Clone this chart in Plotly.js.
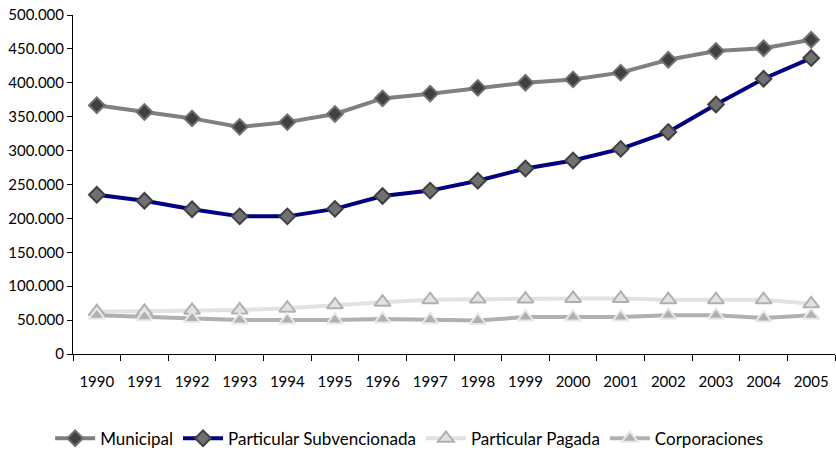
<!DOCTYPE html>
<html>
<head>
<meta charset="utf-8">
<script src="https://cdn.plot.ly/plotly-3.0.1.min.js"></script>
<style>
  body { margin: 0; background: #fff; }
  #chart { width: 836px; height: 450px; }
</style>
</head>
<body>
<div id="chart"></div>
<script>
// years on the x axis
var years = ["1990", "1991", "1992", "1993", "1994", "1995", "1996", "1997",
             "1998", "1999", "2000", "2001", "2002", "2003", "2004", "2005"];

// enrolment per type of school
var municipal = [367000, 357000, 347500, 335000, 342000, 354000, 377000, 384000,
                 392500, 400000, 405000, 415000, 434000, 447000, 451000, 463500];
var subvencionada = [235000, 226000, 213500, 203000, 203000, 214000, 233000, 241000,
                     255500, 273500, 285500, 302500, 327500, 368000, 406000, 436500];
var pagada = [62500, 63000, 64500, 65000, 67500, 72500, 76500, 80000,
              81000, 81000, 82000, 82000, 80000, 80000, 80000, 74000];
var corporaciones = [57000, 55000, 52500, 50000, 50000, 50000, 51500, 50500,
                     49500, 54500, 54500, 54500, 57000, 57000, 53000, 57000];

var trace1 = {
    x: years, y: municipal, name: "Municipal",
    type: "scatter", mode: "lines+markers",
    line: {color: "#808080", width: 4},
    marker: {symbol: "diamond", size: 12, color: "#404040", line: {color: "#707070", width: 2}}
};
var trace2 = {
    x: years, y: subvencionada, name: "Particular Subvencionada",
    type: "scatter", mode: "lines+markers",
    line: {color: "#000080", width: 4},
    marker: {symbol: "diamond", size: 12, color: "#707070", line: {color: "#404040", width: 2}}
};
var trace3 = {
    x: years, y: pagada, name: "Particular Pagada",
    type: "scatter", mode: "lines+markers",
    line: {color: "#e2e2e2", width: 4},
    marker: {symbol: "triangle-up", size: 14, color: "#e2e2e2", line: {color: "#b0b0b0", width: 2}}
};
var trace4 = {
    x: years, y: corporaciones, name: "Corporaciones",
    type: "scatter", mode: "lines+markers",
    line: {color: "#b0b0b0", width: 4},
    marker: {symbol: "triangle-up", size: 14, color: "#b0b0b0", line: {color: "#e8e8e8", width: 2}}
};

var data = [trace1, trace2, trace3, trace4];

var layout = {
    width: 836,
    height: 450,
    margin: {l: 73, r: 1, t: 15, b: 96},
    paper_bgcolor: "#fff",
    plot_bgcolor: "#fff",
    separators: ",.",
    font: {family: "Lato, sans-serif", size: 14, color: "#000"},
    xaxis: {
        type: "category",
        range: [-0.5, 15.5],
        showgrid: false,
        zeroline: false,
        showline: true, linecolor: "#000", linewidth: 1,
        ticks: "outside", ticklen: 6, tickcolor: "#000",
        tickson: "boundaries",
        ticklabelstandoff: 14,
        tickfont: {size: 15}
    },
    yaxis: {
        range: [0, 500000],
        dtick: 50000,
        tickformat: ",d",
        showgrid: false,
        zeroline: false,
        showline: true, linecolor: "#000", linewidth: 1,
        ticks: "outside", ticklen: 5, tickcolor: "#000",
        tickfont: {size: 15}
    },
    showlegend: true,
    legend: {
        orientation: "h",
        xref: "container", yref: "container",
        x: 0.49, xanchor: "center",
        y: 0.025, yanchor: "middle",
        itemwidth: 40,
        font: {size: 17}
    }
};

Plotly.newPlot("chart", data, layout, {displayModeBar: false});
</script>
</body>
</html>
